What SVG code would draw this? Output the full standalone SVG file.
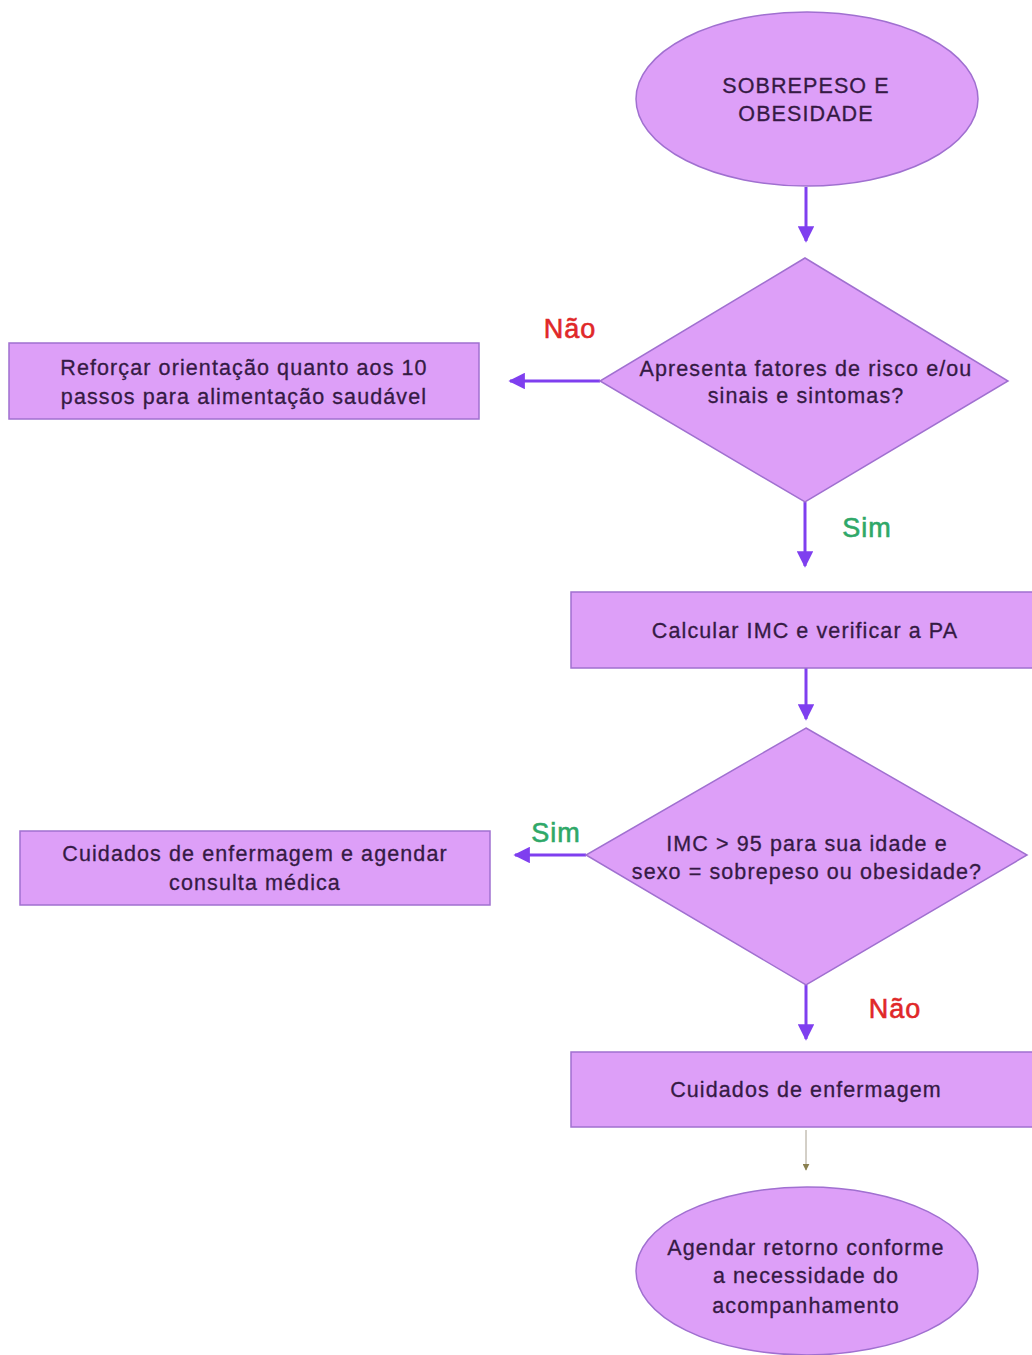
<svg xmlns="http://www.w3.org/2000/svg" width="1032" height="1355" viewBox="0 0 1032 1355">
<defs>
<marker id="ah" viewBox="0 0 10 10" refX="9" refY="5" markerWidth="5.5" markerHeight="5.5" orient="auto" markerUnits="strokeWidth">
<path d="M0,0 L10,5 L0,10 z" fill="#7f3fef"/>
</marker>
<marker id="ahs" viewBox="0 0 10 10" refX="9" refY="5" markerWidth="7" markerHeight="7" orient="auto" markerUnits="strokeWidth">
<path d="M0,0 L10,5 L0,10 z" fill="#8a8050"/>
</marker>
<style>
.shape{fill:#dd9ff8;stroke:#a070d0;stroke-width:1.5}
.t{font-family:"Liberation Sans",Arial,sans-serif;font-size:21.5px;fill:#351a44;text-anchor:middle;letter-spacing:1.1px;stroke:#351a44;stroke-width:0.3}
.lbl{font-family:"Liberation Sans",Arial,sans-serif;font-size:27px;text-anchor:middle;letter-spacing:1px;stroke-width:0.6}
.no{fill:#e02828;stroke:#e02828}
.yes{fill:#2fa868;stroke:#2fa868}
.c{stroke:#7f3fef;stroke-width:3;fill:none;marker-end:url(#ah)}
.cs{stroke:#a8a090;stroke-width:1;fill:none;marker-end:url(#ahs)}
</style>
</defs>
<rect width="1032" height="1355" fill="#ffffff"/>
<g id="connectors">
<line class="c" x1="806" y1="187" x2="806" y2="241"/>
<line class="c" x1="600" y1="381" x2="510" y2="381"/>
<line class="c" x1="805" y1="502" x2="805" y2="566"/>
<line class="c" x1="806" y1="668" x2="806" y2="719"/>
<line class="c" x1="586" y1="855" x2="515" y2="855"/>
<line class="c" x1="806" y1="985" x2="806" y2="1039"/>
<line class="cs" x1="806" y1="1130" x2="806" y2="1170"/>
</g>
<g id="labels">
<text class="lbl no" x="570" y="338">Não</text>
<text class="lbl yes" x="867" y="537">Sim</text>
<text class="lbl yes" x="556" y="842">Sim</text>
<text class="lbl no" x="895" y="1018">Não</text>
</g>
<g id="start">
<ellipse class="shape" cx="807" cy="99" rx="171" ry="87"/>
<text class="t" x="806" y="93">SOBREPESO E</text>
<text class="t" x="806" y="121">OBESIDADE</text>
</g>
<g id="decision1">
<polygon class="shape" points="805,258 1008,381 805,502 600,381"/>
<text class="t" x="806" y="376">Apresenta fatores de risco e/ou</text>
<text class="t" x="806" y="403">sinais e sintomas?</text>
</g>
<g id="reforcar">
<rect class="shape" x="9" y="343" width="470" height="76"/>
<text class="t" x="244" y="375">Reforçar orientação quanto aos 10</text>
<text class="t" x="244" y="404">passos para alimentação saudável</text>
</g>
<g id="calcular">
<rect class="shape" x="571" y="592" width="470" height="76"/>
<text class="t" x="805" y="638">Calcular IMC e verificar a PA</text>
</g>
<g id="decision2">
<polygon class="shape" points="806,728 1027,855 806,985 586,855"/>
<text class="t" x="807" y="851">IMC &gt; 95 para sua idade e</text>
<text class="t" x="807" y="879">sexo = sobrepeso ou obesidade?</text>
</g>
<g id="cuidados-agendar">
<rect class="shape" x="20" y="831" width="470" height="74"/>
<text class="t" x="255" y="861">Cuidados de enfermagem e agendar</text>
<text class="t" x="255" y="890">consulta médica</text>
</g>
<g id="cuidados">
<rect class="shape" x="571" y="1052" width="470" height="75"/>
<text class="t" x="806" y="1097">Cuidados de enfermagem</text>
</g>
<g id="end">
<ellipse class="shape" cx="807" cy="1271" rx="171" ry="84"/>
<text class="t" x="806" y="1255">Agendar retorno conforme</text>
<text class="t" x="806" y="1283">a necessidade do</text>
<text class="t" x="806" y="1313">acompanhamento</text>
</g>
</svg>
